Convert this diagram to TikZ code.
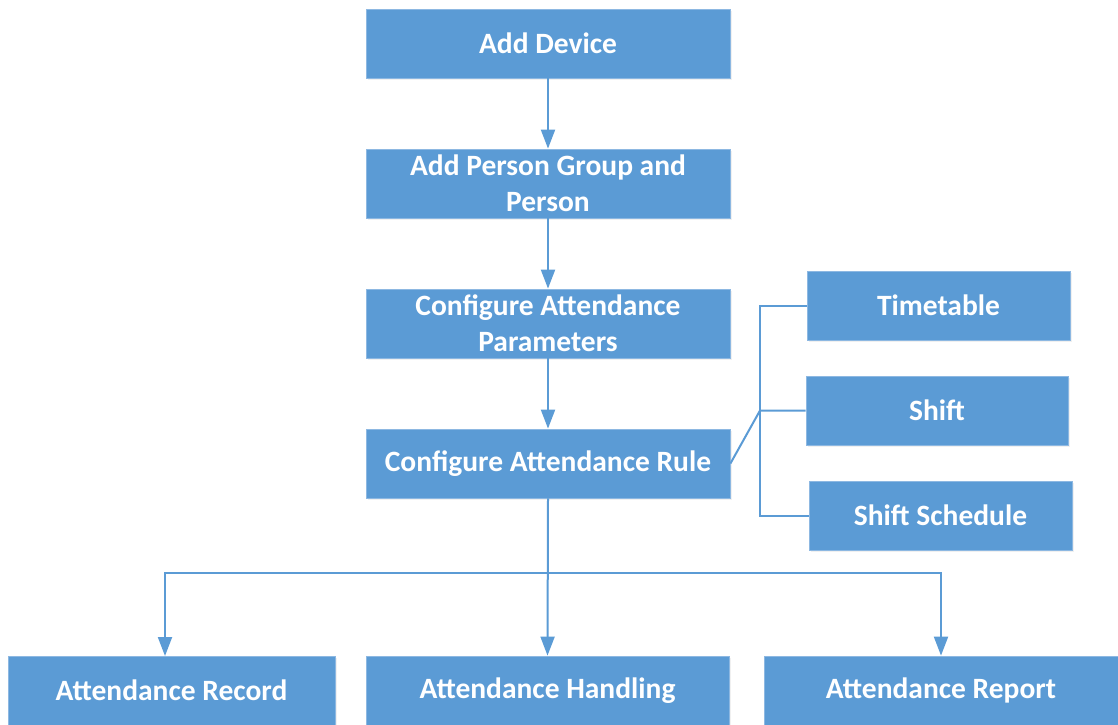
\documentclass[tikz,border=0pt]{standalone}
\usepackage{fontspec}
\setmainfont{Carlito}
\usetikzlibrary{arrows.meta,shadows}
\definecolor{boxblue}{HTML}{5B9BD5}
\definecolor{boxedge}{HTML}{8DB8E2}
\begin{document}
\begin{tikzpicture}[x=1pt,y=-1pt,
  box/.style={rectangle, fill=boxblue, draw=boxedge, line width=0.8pt, inner sep=0pt,
    minimum height=69pt, text=white, align=center,
    font=\fontsize{29.5}{36}\selectfont\bfseries,
    drop shadow={opacity=0.12, shadow xshift=2pt, shadow yshift=-2pt}},
  conn/.style={draw=boxblue, line width=2pt},
  arr/.style={conn, -{Triangle[width=14pt,length=19pt]}}]
\useasboundingbox (0,0) rectangle (1118,724);
\node[box, minimum width=364pt] (dev) at (548,43.5) {Add Device};
\node[box, minimum width=364pt] (pers) at (548,183.5) {Add Person Group and\\Person};
\node[box, minimum width=364pt] (par) at (548,323.5) {Configure Attendance\\Parameters};
\node[box, minimum width=364pt] (rule) at (548,463.5) {Configure Attendance Rule};
\node[box, minimum width=263pt] (tt) at (938.5,305.5) {Timetable};
\node[box, minimum width=262pt] (sh) at (937,410.5) {Shift};
\node[box, minimum width=263pt] (ss) at (940.5,515.5) {Shift Schedule};
\node[box, minimum width=327pt] (rec) at (171.5,690.5) {Attendance Record};
\node[box, minimum width=363pt] (han) at (547.5,690.5) {Attendance Handling};
\node[box, minimum width=354pt] (rep) at (941,690.5) {Attendance Report};
\coordinate (jn) at (760,410.5);
\coordinate (split) at (547.5,573);
\coordinate (recin) at (165,656);
\draw[arr] (dev.south) -- (pers.north);
\draw[arr] (pers.south) -- (par.north);
\draw[arr] (par.south) -- (rule.north);
\draw[conn] (rule.east) -- (jn) -- (sh.west);
\draw[conn] (tt.west) -| (jn) |- (ss.west);
\draw[arr] (rule.south) -- (han.north);
\draw[arr] (split) -| (recin);
\draw[arr] (split) -| (rep.north);
\end{tikzpicture}
\end{document}
